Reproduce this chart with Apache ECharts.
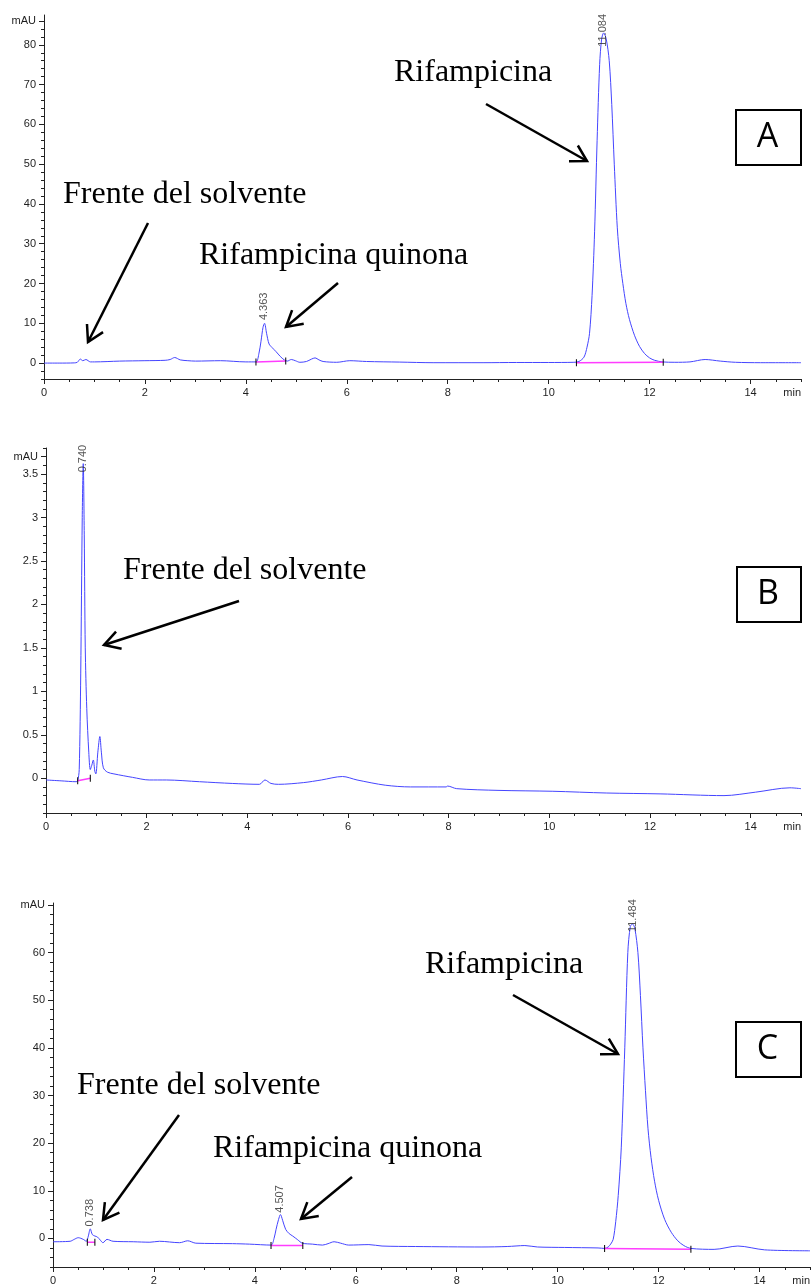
<!DOCTYPE html>
<html><head><meta charset="utf-8">
<script src="https://cdn.jsdelivr.net/npm/echarts@6/dist/echarts.min.js"></script>
<style>html,body{margin:0;padding:0;background:#fff}#c{width:811px;height:1286px}</style>
</head><body><div id="c"></div>
<script>
// ---------- Panel A data (min, mAU) ----------
const timeA = [0,0.3,0.6,0.66,0.72,0.77,0.83,0.92,1.0,1.5,2.0,2.4,2.5,2.59,2.7,2.85,3.0,3.5,4.0,4.2,4.26,4.3,4.34,4.37,4.41,4.46,4.52,4.6,4.68,4.76,4.82,4.9,4.98,5.07,5.2,5.3,5.37,5.45,5.53,5.8,6.06,6.39,7.05,7.71,8.7,9.36,10.0,10.5,10.6,10.7,10.76,10.81,10.86,10.91,10.96,11.01,11.05,11.09,11.14,11.2,11.25,11.3,11.36,11.42,11.47,11.53,11.6,11.7,11.8,11.9,12.0,12.1,12.25,12.5,12.8,13.1,13.4,13.7,14.2,15.0];
const absA  = [0,0,0.05,0.2,1.0,0.6,0.9,0.3,0.3,0.5,0.6,0.7,0.9,1.4,0.8,0.6,0.5,0.6,0.3,0.3,2.5,5.5,9.0,10.0,7.5,4.8,3.9,2.85,1.7,0.8,0.5,0.9,0.6,0.2,0.4,1.0,1.3,0.8,0.4,0.2,0.6,0.4,0.25,0.1,0.1,0.15,0.15,0.2,0.4,1.5,4,7.5,17,33,56,75,81.5,83,81.5,76,65,50,34,25,20,15,11,7,4.2,2.4,1.3,0.7,0.3,0.2,0.3,0.9,0.5,0.2,0.1,0.1];
const intStartTA = [4.2, 10.55], intStartVA = [0.3, 0.1];
const intEndTA   = [4.79, 12.27], intEndVA  = [0.5, 0.2];
const peakTA = [4.363, 11.084], peakLabelA = ['4.363','11.084'], peakLabelAtA = [10.8, 79.5];

// ---------- Panel B data ----------
const timeB = [0,0.3,0.6,0.63,0.66,0.69,0.72,0.74,0.76,0.78,0.81,0.85,0.88,0.91,0.94,0.97,0.99,1.03,1.07,1.1,1.14,1.22,1.35,1.72,2.05,2.39,3.05,3.7,4.24,4.35,4.47,4.62,5.12,5.47,5.89,6.18,6.74,7.24,7.95,7.98,8.16,9.0,10.07,11.13,12.2,13.47,14.1,14.78,15.0];
const absB  = [-0.02,-0.03,-0.04,-0.03,0.1,1.2,3.0,3.62,2.8,1.5,0.8,0.3,0.1,0.15,0.21,0.08,0.05,0.3,0.48,0.3,0.12,0.07,0.05,0.01,-0.02,-0.02,-0.04,-0.06,-0.07,-0.02,-0.06,-0.07,-0.05,-0.02,0.02,-0.02,-0.08,-0.10,-0.10,-0.09,-0.12,-0.14,-0.15,-0.17,-0.18,-0.20,-0.16,-0.11,-0.12];
const intStartTB = [0.63], intStartVB = [-0.03];
const intEndTB   = [0.88], intEndVB   = [0.0];
const peakTB = [0.740], peakLabelB = ['0.740'], peakLabelAtB = [3.52];

// ---------- Panel C data ----------
const timeC = [0,0.34,0.42,0.5,0.6,0.66,0.7,0.738,0.78,0.83,0.88,0.94,0.99,1.07,1.19,1.59,1.92,2.11,2.51,2.67,2.83,3.56,3.89,4.32,4.38,4.42,4.47,4.507,4.55,4.61,4.68,4.75,4.85,4.94,5.14,5.34,5.45,5.57,5.7,5.86,6.26,6.52,7.18,8.5,9.0,9.35,9.6,10.14,10.8,10.93,11.0,11.05,11.1,11.15,11.2,11.26,11.33,11.39,11.44,11.484,11.53,11.59,11.64,11.69,11.74,11.79,11.85,11.92,12.0,12.12,12.25,12.38,12.5,12.64,13.1,13.57,14.1,15.0];
const absC  = [-0.7,-0.6,-0.2,0.15,-0.2,-0.6,0.5,2.0,0.8,0.5,0.3,-0.4,-0.9,-0.2,-0.6,-0.7,-0.8,-0.6,-0.9,-0.5,-1.0,-1.1,-1.2,-1.4,0.0,1.9,4.0,5.0,3.8,1.9,1.0,0.5,-0.3,-1.0,-1.2,-1.4,-1.1,-0.7,-1.0,-1.4,-1.3,-1.6,-1.7,-1.8,-1.7,-1.5,-1.8,-1.9,-2.0,-2.1,-1.8,-1.2,-0.2,3.5,9,19,40,60,65.5,66,65,60,51,40,31,23,17,12,8,4,1.3,-0.5,-1.5,-2.1,-2.3,-1.6,-2.4,-2.6];
const intStartTC = [0.68, 4.32, 10.93], intStartVC = [-0.8, -1.5, -2.1];
const intEndTC   = [0.83, 4.95, 12.64], intEndVC   = [-0.8, -1.5, -2.3];
const peakTC = [0.738, 4.507, 11.484], peakLabelC = ['0.738','4.507','11.484'], peakLabelAtC = [2.5, 5.4, 64.3];

// ---------- Axis ticks ----------
const xLabels = [0,2,4,6,8,10,12,14];
const yLabelsA = [0,10,20,30,40,50,60,70,80], unitTickA = 86;
const yLabelsB = [0,0.5,1,1.5,2,2.5,3,3.5], unitTickB = 3.7;
const yLabelsC = [0,10,20,30,40,50,60], unitTickC = 70;

function steps(a,b,s){const r=[];const n=Math.floor((b-a)/s+1e-6);for(let i=0;i<=n;i++)r.push(+(a+i*s).toFixed(4));return r;}
function pairs(t,v){return t.map((x,i)=>[x,v[i]]);}

const TXT = '#1e1e1e', AX = '#222', BLUE = '#4545ff', MAG = '#ff3cff';
const panels = [
  {grid:{left:44,top:15,width:757,height:364}, ymin:-4, ymax:87.5, ylab:yLabelsA, unit:unitTickA, ystep:2,
   t:timeA, v:absA, is:[intStartTA,intStartVA], ie:[intEndTA,intEndVA], pk:[peakTA,peakLabelA,peakLabelAtA]},
  {grid:{left:46,top:448,width:755,height:365}, ymin:-0.4, ymax:3.8, ylab:yLabelsB, unit:unitTickB, ystep:0.1,
   t:timeB, v:absB, is:[intStartTB,intStartVB], ie:[intEndTB,intEndVB], pk:[peakTB,peakLabelB,peakLabelAtB]},
  {grid:{left:53,top:903,width:760,height:365}, ymin:-6, ymax:70.4, ylab:yLabelsC, unit:unitTickC, ystep:2,
   t:timeC, v:absC, is:[intStartTC,intStartVC], ie:[intEndTC,intEndVC], pk:[peakTC,peakLabelC,peakLabelAtC]}
];

const grids=[], xAxes=[], yAxes=[], series=[];
panels.forEach((p,i)=>{
  grids.push(p.grid);
  const xmin = steps(0,15,0.5);
  xAxes.push({type:'value', gridIndex:i, position:'bottom', min:0, max:15,
    axisLine:{show:true,onZero:false,lineStyle:{color:AX,width:1}},
    axisTick:{show:true,length:5,customValues:xLabels,lineStyle:{color:AX}},
    axisLabel:{show:true,customValues:xLabels,margin:8,fontSize:11,color:TXT,fontFamily:'Liberation Sans'},
    splitLine:{show:false},
    name:'min', nameLocation:'end', nameGap:0,
    nameTextStyle:{align:'right',verticalAlign:'top',padding:[8,0,0,0],fontSize:11,color:TXT,fontFamily:'Liberation Sans'}});
  xAxes.push({type:'value', gridIndex:i, position:'bottom', min:0, max:15,
    axisLine:{show:false,onZero:false}, axisTick:{show:true,length:3,customValues:xmin,lineStyle:{color:AX}},
    axisLabel:{show:false}, splitLine:{show:false}});
  const lab = p.ylab.concat([p.unit]);
  const u = p.unit;
  yAxes.push({type:'value', gridIndex:i, position:'left', min:p.ymin, max:p.ymax,
    axisLine:{show:true,onZero:false,lineStyle:{color:AX,width:1}},
    axisTick:{show:true,length:5,customValues:lab,lineStyle:{color:AX}},
    axisLabel:{show:true,customValues:lab,margin:8,fontSize:11,color:TXT,fontFamily:'Liberation Sans',
      formatter:(v)=> Math.abs(v-u)<1e-9 ? 'mAU' : String(v)},
    splitLine:{show:false}});
  yAxes.push({type:'value', gridIndex:i, position:'left', min:p.ymin, max:p.ymax,
    axisLine:{show:false,onZero:false},
    axisTick:{show:true,length:3,customValues:steps(p.ymin,p.ymax,p.ystep),lineStyle:{color:AX}},
    axisLabel:{show:false}, splitLine:{show:false}});
  const xi=2*i, yi=2*i;
  series.push({type:'line', xAxisIndex:xi, yAxisIndex:yi, data:pairs(p.t,p.v), showSymbol:false, smooth:0.3,
    lineStyle:{color:BLUE,width:1}, silent:true, animation:false, z:3});
  p.is[0].forEach((t0,k)=>{
    series.push({type:'line', xAxisIndex:xi, yAxisIndex:yi,
      data:[[t0,p.is[1][k]],[p.ie[0][k],p.ie[1][k]]],
      showSymbol:true, symbol:'rect', symbolSize:[1,7], itemStyle:{color:'#000'},
      lineStyle:{color:MAG,width:1.5}, silent:true, animation:false, z:4});
  });
  series.push({type:'scatter', xAxisIndex:xi, yAxisIndex:yi, symbolSize:0, animation:false, silent:true, z:5,
    data:p.pk[0].map((t,k)=>({value:[t,p.pk[2][k]], name:p.pk[1][k]})),
    label:{show:true, position:'inside', rotate:90, align:'left', verticalAlign:'middle',
      formatter:(d)=>d.name, fontSize:11, color:'#2a2a2a', fontFamily:'Liberation Sans'}});
});

// ---------- Annotations (page layout, px; y = text baseline) ----------
const notes = [
  {text:'Frente del solvente', x:63, y:202},
  {text:'Rifampicina quinona', x:199, y:263},
  {text:'Rifampicina', x:394, y:80},
  {text:'Frente del solvente', x:123, y:578},
  {text:'Rifampicina', x:425, y:972},
  {text:'Frente del solvente', x:77, y:1093},
  {text:'Rifampicina quinona', x:213, y:1156}
];
const arrows = [
  [148,223, 88,342], [338,283, 286,327], [486,104, 587,161],
  [239,601, 104,645],
  [513,995, 618,1054], [179,1115, 103,1220], [352,1177, 301,1219]
];
const boxes = [
  {label:'A', x:736, y:110, w:65, h:55},
  {label:'B', x:737, y:567, w:64, h:55},
  {label:'C', x:736, y:1022, w:65, h:55}
];
const graphics = [];
notes.forEach(n=>graphics.push({type:'text', x:n.x, y:n.y-7, z:10, silent:true,
  style:{text:n.text, fill:'#000', font:'32px "Liberation Serif"', textAlign:'left', textVerticalAlign:'middle'}}));
arrows.forEach(a=>{
  const [x1,y1,x2,y2]=a; const ang=Math.atan2(y1-y2,x1-x2); const L=18, s=Math.PI/6;
  const p1=[x2+L*Math.cos(ang+s), y2+L*Math.sin(ang+s)], p2=[x2+L*Math.cos(ang-s), y2+L*Math.sin(ang-s)];
  graphics.push({type:'line', z:10, silent:true, shape:{x1,y1,x2,y2}, style:{stroke:'#000',lineWidth:2.5}});
  graphics.push({type:'polyline', z:10, silent:true, shape:{points:[p1,[x2,y2],p2]}, style:{stroke:'#000',lineWidth:2.5,fill:null,lineJoin:'miter'}});
});
boxes.forEach(b=>{
  graphics.push({type:'rect', z:10, silent:true, shape:{x:b.x,y:b.y,width:b.w,height:b.h}, style:{fill:'#fff',stroke:'#000',lineWidth:2}});
  graphics.push({type:'text', z:11, silent:true, x:b.x+b.w/2-1, y:b.y+b.h/2,
    style:{text:b.label, fill:'#000', font:'34px "Open Sans"', textAlign:'center', textVerticalAlign:'middle'}});
});

const chart = echarts.init(document.getElementById('c'));
chart.setOption({animation:false, backgroundColor:'#fff', grid:grids, xAxis:xAxes, yAxis:yAxes, series:series, graphic:graphics});
</script></body></html>
